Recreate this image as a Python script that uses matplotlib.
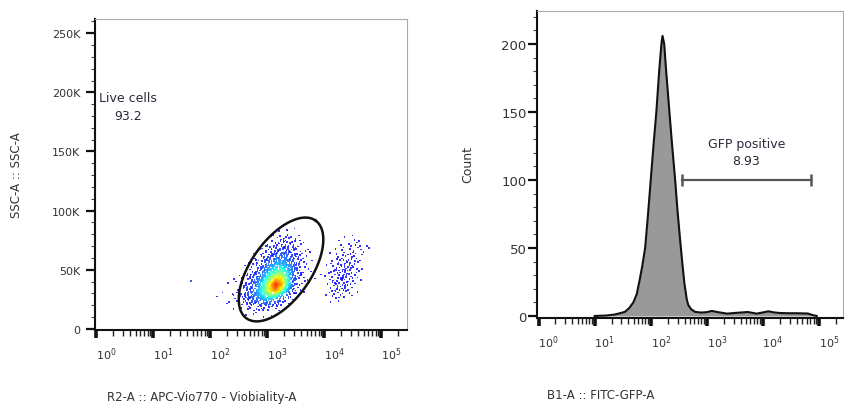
import numpy as np
import matplotlib.pyplot as plt
from matplotlib.ticker import LogLocator, MultipleLocator, NullFormatter, FuncFormatter
from matplotlib.transforms import ScaledTranslation

plt.rcParams['font.family'] = ['DejaVu Sans']
plt.rcParams['mathtext.default'] = 'regular'

# ---- left panel: live cell gate (events binned by eye from the picture) ----
# bins: log10(x) from 2.0 in steps of 0.1, SSC-A from 10K in steps of 5K
bin_log_x0 = 2.0
bin_log_dx = 0.1
bin_y0 = 10.0
bin_dy = 5.0
event_counts = [
    [0, 0, 0, 0, 0, 0, 1, 1, 1, 1, 1, 0, 0, 0, 0, 0, 0, 0, 0, 0, 0, 0, 0, 0, 0, 0, 0, 0, 0],
    [0, 0, 0, 0, 1, 1, 2, 3, 4, 4, 3, 2, 1, 0, 0, 0, 0, 0, 0, 0, 0, 0, 0, 0, 0, 0, 0, 0, 0],
    [0, 0, 1, 1, 1, 3, 5, 7, 8, 10, 9, 7, 4, 2, 1, 0, 0, 0, 0, 0, 0, 1, 1, 0, 0, 0, 0, 0, 0],
    [0, 1, 0, 1, 2, 4, 7, 10, 13, 17, 20, 15, 10, 5, 2, 1, 0, 0, 0, 0, 1, 2, 3, 2, 1, 0, 0, 0, 0],
    [0, 0, 1, 0, 2, 3, 6, 9, 13, 19, 27, 34, 24, 13, 6, 2, 1, 0, 0, 0, 1, 3, 4, 4, 2, 1, 0, 0, 0],
    [0, 0, 0, 1, 1, 2, 5, 8, 12, 17, 25, 33, 30, 17, 8, 3, 1, 1, 0, 0, 1, 3, 5, 5, 3, 1, 0, 0, 0],
    [0, 0, 0, 0, 1, 1, 3, 6, 10, 14, 19, 26, 27, 18, 9, 4, 2, 1, 1, 0, 1, 3, 5, 6, 4, 2, 1, 0, 0],
    [0, 0, 0, 0, 0, 1, 2, 4, 7, 11, 15, 19, 21, 17, 10, 5, 2, 1, 0, 1, 1, 3, 5, 6, 4, 2, 1, 0, 0],
    [0, 0, 0, 0, 0, 0, 1, 3, 5, 8, 12, 14, 15, 13, 9, 5, 2, 1, 1, 0, 1, 2, 4, 5, 4, 3, 1, 0, 0],
    [0, 0, 0, 0, 0, 0, 1, 2, 3, 6, 9, 11, 12, 11, 8, 4, 2, 1, 0, 0, 0, 2, 3, 4, 4, 3, 1, 0, 0],
    [0, 0, 0, 0, 0, 0, 0, 1, 2, 4, 6, 8, 9, 9, 7, 4, 2, 1, 0, 0, 0, 1, 2, 3, 3, 3, 2, 0, 0],
    [0, 0, 0, 0, 0, 0, 0, 0, 1, 2, 4, 6, 7, 7, 6, 3, 1, 1, 0, 0, 0, 0, 1, 2, 2, 2, 2, 1, 0],
    [0, 0, 0, 0, 0, 0, 0, 0, 0, 1, 2, 4, 5, 6, 4, 2, 1, 0, 0, 0, 0, 0, 1, 1, 1, 2, 1, 1, 0],
    [0, 0, 0, 0, 0, 0, 0, 0, 0, 0, 1, 2, 3, 3, 2, 1, 0, 0, 0, 0, 0, 0, 0, 1, 1, 1, 0, 0, 0],
    [0, 0, 0, 0, 0, 0, 0, 0, 0, 0, 0, 0, 1, 1, 1, 0, 0, 0, 0, 0, 0, 0, 0, 0, 0, 0, 0, 0, 0],
]
stray_log_x = [1.66]
stray_y = [40.7]

# elliptical gate (centre in log10 x / K, semi axes in pixels, tilt in degrees)
gate_log_x = 3.245
gate_y = 50.2
gate_a_px = 60
gate_b_px = 30
gate_angle = 55
gate_name = 'Live cells'
gate_pct = '93.2'

# ---- right panel: GFP histogram ----
gfp_log_x = [1.0, 1.2, 1.35, 1.45, 1.54, 1.62, 1.69, 1.75, 1.8, 1.85, 1.9, 1.95, 2.0,
             2.05, 2.1, 2.15, 2.19, 2.21, 2.24, 2.275, 2.333, 2.38, 2.435, 2.48,
             2.537, 2.57, 2.6, 2.643, 2.67, 2.72, 2.79, 2.9, 3.0, 3.09, 3.2, 3.36,
             3.5, 3.73, 3.89, 4.0, 4.1, 4.2, 4.3, 4.45, 4.6, 4.8, 4.9, 4.96]
gfp_count = [0, 0.3, 1, 2, 3, 6, 10, 16, 26, 37, 50, 74, 100,
             126, 150, 180, 200, 206, 200, 180, 150, 126, 100, 76,
             50, 36, 24, 12, 8, 5, 3, 2.5, 2.8, 3.7, 2.8, 1.7,
             2.2, 2.9, 1.7, 2.6, 3.4, 2.6, 2.2, 2.0, 2.0, 1.8, 0.5, 0]
gfp_gate = [10**2.55, 10**4.86]
gfp_gate_y = 100
gfp_name = 'GFP positive'
gfp_pct = '8.93'

fig = plt.figure(figsize=(8.44, 4.06), dpi=100)
ax1 = fig.add_axes([0.1126, 0.1847, 0.3697, 0.766])
ax2 = fig.add_axes([0.6363, 0.2143, 0.3626, 0.757])

# dots: spread each bin's events over the bin, colour by smoothed density
counts = np.array(event_counts, dtype=float)
nr, nc = counts.shape
pad = np.pad(counts, 1)
kern = np.array([[1, 2, 1], [2, 4, 2], [1, 2, 1]]) / 16.0
smooth = np.zeros_like(counts)
for i in range(3):
    for j in range(3):
        smooth += kern[i, j] * pad[i:i + nr, j:j + nc]


def density_at(rr, cc):
    # bilinear lookup in the smoothed bin grid (bin centres at integer + 0.5)
    fr = np.clip(rr - 0.5, 0, nr - 1)
    fc = np.clip(cc - 0.5, 0, nc - 1)
    r0, c0 = int(fr), int(fc)
    r1, c1 = min(r0 + 1, nr - 1), min(c0 + 1, nc - 1)
    wr, wc = fr - r0, fc - c0
    return ((1 - wr) * (1 - wc) * smooth[r0, c0] + (1 - wr) * wc * smooth[r0, c1]
            + wr * (1 - wc) * smooth[r1, c0] + wr * wc * smooth[r1, c1])


xs, ys, dens = [], [], []
for r in range(nr):
    for c in range(nc):
        for k in range(int(counts[r, c])):
            u = (k * 0.7548776662 + c * 0.377 + r * 0.611) % 1
            v = (k * 0.5698402910 + c * 0.223 + r * 0.419) % 1
            xs.append(10 ** (bin_log_x0 + bin_log_dx * (c + u)))
            ys.append(bin_y0 + bin_dy * (r + v))
            dens.append(density_at(r + v, c + u))
xs = np.array(xs)
ys = np.array(ys)
dens = np.array(dens)
order = np.argsort(dens)
cvals = np.clip(0.09 + (dens / 29.0) ** 1.7 * 0.8, 0, 0.9)
ax1.scatter(xs[order], ys[order], c=cvals[order], cmap='jet', vmin=0, vmax=1,
            s=1.4, marker='s', linewidths=0, alpha=0.8)
ax1.scatter(10 ** np.array(stray_log_x), stray_y, c='#4060d0', s=1.4, marker='s',
            linewidths=0)

# gate outline, built in pixel units then mapped back to data
t = np.linspace(0, 2 * np.pi, 300)
th = np.radians(gate_angle)
dx = gate_a_px * np.cos(t) * np.cos(th) - gate_b_px * np.sin(t) * np.sin(th)
dy = gate_a_px * np.cos(t) * np.sin(th) + gate_b_px * np.sin(t) * np.cos(th)
ax1.plot(10 ** (gate_log_x + dx / 57.0), gate_y + dy * 0.843, color='#111111', lw=1.8)

ax1.text(10 ** 0.56, 196, gate_name, ha='center', va='center', fontsize=9, color='#2a2a3a')
ax1.text(10 ** 0.56, 180, gate_pct, ha='center', va='center', fontsize=9, color='#2a2a3a')

ax1.set_xscale('log')
ax1.set_xlim(10 ** -0.018, 10 ** 5.456)
ax1.set_ylim(-1, 262)
ax1.yaxis.set_major_locator(MultipleLocator(50))
ax1.yaxis.set_minor_locator(MultipleLocator(10))
ax1.yaxis.set_major_formatter(FuncFormatter(lambda v, p: '0' if v == 0 else f'{int(v)}K'))

# histogram
hx = 10 ** np.array(gfp_log_x)
ax2.fill_between(hx, 0, gfp_count, color='#999999', lw=0)
ax2.plot(hx, gfp_count, color='#111111', lw=1.5)
ax2.plot(gfp_gate, [gfp_gate_y, gfp_gate_y], color='#555555', lw=1.6,
         marker='|', markersize=9, mew=1.8)
gx = 10 ** ((np.log10(gfp_gate[0]) + np.log10(gfp_gate[1])) / 2)
ax2.text(gx, 126.5, gfp_name, ha='center', va='center', fontsize=9, color='#2a2a3a')
ax2.text(gx, 114, gfp_pct, ha='center', va='center', fontsize=9, color='#2a2a3a')

ax2.set_xscale('log')
ax2.set_xlim(10 ** -0.028, 10 ** 5.43)
ax2.set_ylim(-1.5, 224.5)
ax2.yaxis.set_major_locator(MultipleLocator(50))
ax2.yaxis.set_minor_locator(MultipleLocator(10))

shift = ScaledTranslation(0.10, 0, fig.dpi_scale_trans)
for ax, ysize, ypad in ((ax1, 8, 4), (ax2, 9.5, 1)):
    ax.set_xticks([10.0 ** i for i in range(6)])
    ax.set_xticklabels([f'$10^{{{i}}}$' for i in range(6)])
    ax.xaxis.set_minor_locator(LogLocator(base=10, subs=np.arange(2, 10), numticks=50))
    ax.xaxis.set_minor_formatter(NullFormatter())
    ax.tick_params(axis='x', which='major', length=6, width=2.6, pad=5,
                   labelsize=8, color='#111111', labelcolor='#333333')
    ax.tick_params(axis='x', which='minor', length=4, width=1, color='#222222')
    ax.tick_params(axis='y', which='major', length=6.5, width=1.6, pad=ypad,
                   labelsize=ysize, color='#111111', labelcolor='#333333')
    ax.tick_params(axis='y', which='minor', length=3, width=0.8, color='#444444')
    for lab in ax.get_xticklabels():
        lab.set_transform(lab.get_transform() + shift)
    for s in ('top', 'right'):
        ax.spines[s].set_color('#aaaaaa')
        ax.spines[s].set_linewidth(0.8)
    for s in ('left', 'bottom'):
        ax.spines[s].set_color('#111111')
        ax.spines[s].set_linewidth(1.5)

fig.text(0.020, 0.569, 'SSC-A :: SSC-A', rotation=90, ha='center', va='center',
         fontsize=8.5, color='#333333')
fig.text(0.5545, 0.594, 'Count', rotation=90, ha='center', va='center',
         fontsize=9, color='#333333')
fig.text(107 / 844, 1 - 397.5 / 406, 'R2-A :: APC-Vio770 - Viobiality-A', ha='left',
         va='center', fontsize=8.5, color='#333333')
fig.text(547 / 844, 1 - 396 / 406, 'B1-A :: FITC-GFP-A', ha='left', va='center',
         fontsize=8.5, color='#333333')

fig.savefig('out.png', dpi=100)
